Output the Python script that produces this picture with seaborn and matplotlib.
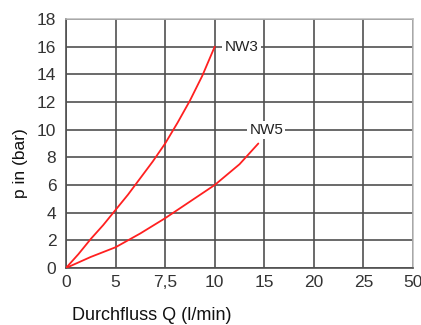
import matplotlib
matplotlib.use("Agg")
import matplotlib.pyplot as plt
import seaborn as sns
import pandas as pd

# x is given in grid positions: the axis ticks are equally spaced but labelled 0,5,7.5,10,15,20,25,50
x_ticklabels = ["0", "5", "7,5", "10", "15", "20", "25", "50"]
y_ticks = [0, 2, 4, 6, 8, 10, 12, 14, 16, 18]

nw3_x = [0, 0.25, 0.5, 0.75, 1.0, 1.25, 1.5, 1.75, 2.0, 2.25, 2.5, 2.75, 3.0]
nw3_p = [0, 1.0, 2.1, 3.1, 4.2, 5.3, 6.5, 7.7, 9.0, 10.5, 12.1, 13.9, 16.0]
nw5_x = [0, 0.5, 1.0, 1.5, 2.0, 2.5, 3.0, 3.5, 3.88]
nw5_p = [0, 0.8, 1.5, 2.5, 3.6, 4.8, 6.0, 7.5, 9.0]

sns.set_style("white")
plt.rcParams['font.family'] = ['Liberation Sans', 'DejaVu Sans']

fig = plt.figure(figsize=(4.21, 3.25), dpi=100)
ax = fig.add_axes([66 / 421, 57 / 325, 347 / 421, 249 / 325])

df = pd.concat([
    pd.DataFrame({'q': nw3_x, 'p': nw3_p, 'serie': 'NW3'}),
    pd.DataFrame({'q': nw5_x, 'p': nw5_p, 'serie': 'NW5'}),
])
sns.lineplot(data=df, x='q', y='p', units='serie', estimator=None,
             color='#ff2020', linewidth=1.3, sort=False, ax=ax, zorder=3)

ax.set_xlim(0, 7)
ax.set_ylim(0, 18)
ax.set_xticks(range(len(x_ticklabels)))
ax.set_xticklabels(x_ticklabels)
ax.set_yticks(y_ticks)
ax.grid(True, color='#505050', linewidth=1.2)
ax.set_axisbelow(True)
ax.tick_params(axis='both', length=0, labelsize=12.5, colors='#333333', pad=5)
ax.tick_params(axis='y', pad=7)

for s in ['left', 'bottom']:
    ax.spines[s].set_color('#505050')
    ax.spines[s].set_linewidth(1.2)
for s in ['top', 'right']:
    ax.spines[s].set_color('#bbbbbb')
    ax.spines[s].set_linewidth(1.1)

box = dict(facecolor='white', edgecolor='none', pad=1.5)
ax.text(3.2, 16.0, "NW3", fontsize=11, va='center', ha='left', color='#222222', bbox=box, zorder=4)
ax.text(3.7, 10.0, "NW5", fontsize=11, va='center', ha='left', color='#222222', bbox=box, zorder=4)

ax.set_xlabel("Durchfluss Q (l/min)", fontsize=13, color='#111111')
ax.set_ylabel("p in (bar)", fontsize=12.5, color='#111111')
ax.xaxis.set_label_coords(0.248, -0.155)
ax.yaxis.set_label_coords(-0.11, 0.42)

fig.savefig("out.png", dpi=100)
